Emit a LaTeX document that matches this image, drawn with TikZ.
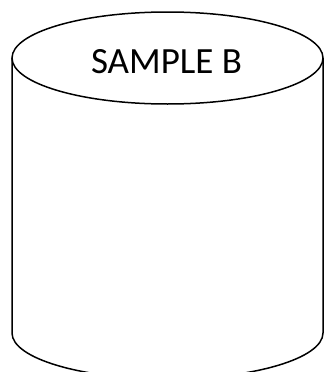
\documentclass[tikz,border=0pt]{standalone}
\usepackage{fontspec}
\setmainfont{Carlito}
\begin{document}
\begin{tikzpicture}[x=1pt,y=-1pt,line width=1.5pt,
  cyl/.style={draw=black,fill=white}]
\useasboundingbox (0,0) rectangle (325,372);
\begin{scope}
\clip (0,0) rectangle (325,372);
\path[cyl] (12,58) -- (12,333) arc[start angle=180,end angle=0,x radius=155.5,y radius=46] -- (323,58);
\draw (167.5,58) ellipse [x radius=155.5,y radius=46];
\end{scope}
\node[font=\fontsize{37}{44}\selectfont,inner sep=0pt] (lbl) at (166.5,62) {SAMPLE B};
\end{tikzpicture}
\end{document}
